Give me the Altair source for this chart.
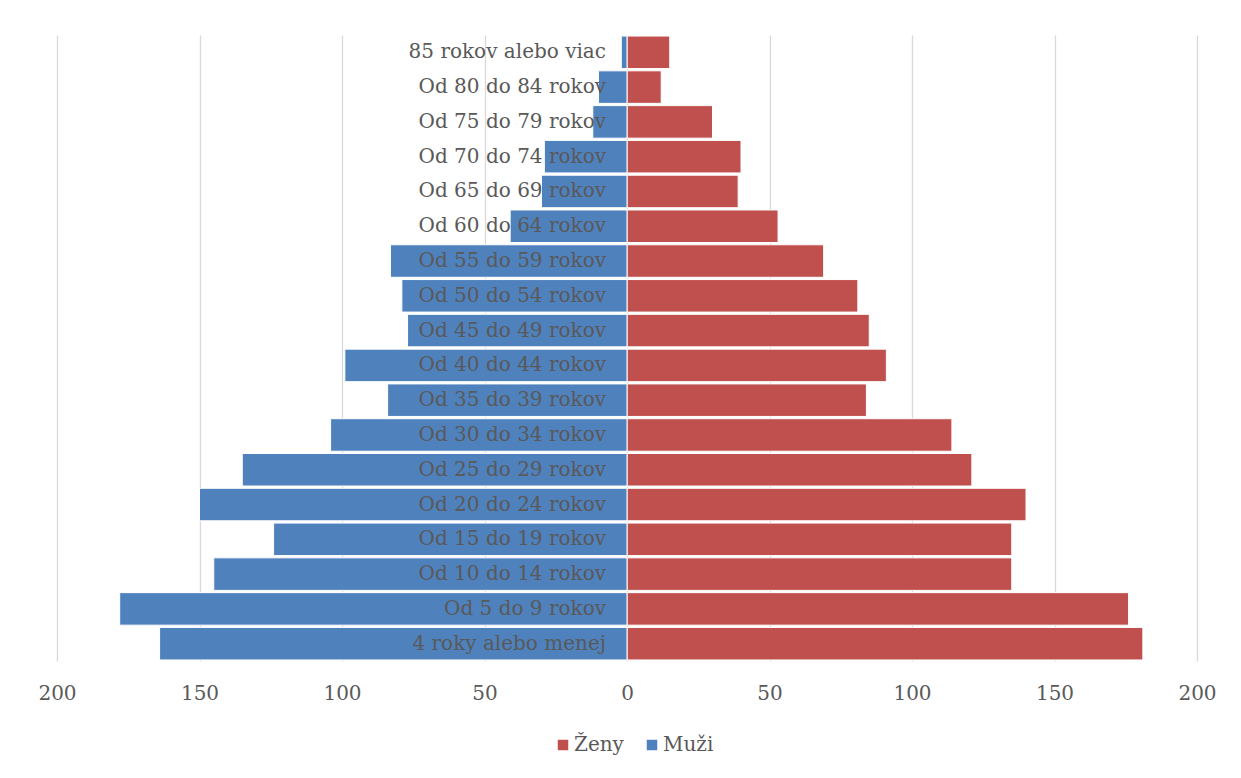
import altair as alt
import pandas as pd

categories = [
    "85 rokov alebo viac", "Od 80 do 84 rokov", "Od 75 do 79 rokov", "Od 70 do 74 rokov",
    "Od 65 do 69 rokov", "Od 60 do 64 rokov", "Od 55 do 59 rokov", "Od 50 do 54 rokov",
    "Od 45 do 49 rokov", "Od 40 do 44 rokov", "Od 35 do 39 rokov", "Od 30 do 34 rokov",
    "Od 25 do 29 rokov", "Od 20 do 24 rokov", "Od 15 do 19 rokov", "Od 10 do 14 rokov",
    "Od 5 do 9 rokov", "4 roky alebo menej",
]
zeny = [15, 12, 30, 40, 39, 53, 69, 81, 85, 91, 84, 114, 121, 140, 135, 135, 176, 181]
muzi = [2, 10, 12, 29, 30, 41, 83, 79, 77, 99, 84, 104, 135, 150, 124, 145, 178, 164]
series = ["Ženy", "Muži"]
colors = ["#C0504D", "#4F81BD"]
ticks = [-200, -150, -100, -50, 0, 50, 100, 150, 200]

rows = []
for c, z, m in zip(categories, zeny, muzi):
    rows.append({"vek": c, "pohlavie": "Ženy", "hodnota": z})
    rows.append({"vek": c, "pohlavie": "Muži", "hodnota": -m})
df = pd.DataFrame(rows)
lab = pd.DataFrame({"vek": categories, "nula": [0] * len(categories)})

FONT = "DejaVu Serif"
GRAY = "#595959"

yenc = alt.Y("vek:N", sort=categories, axis=None,
             scale=alt.Scale(paddingInner=0.065, paddingOuter=0.03))

bars = alt.Chart(df).mark_bar(stroke="white", strokeWidth=1).encode(
    x=alt.X("hodnota:Q",
            scale=alt.Scale(domain=[-200, 200], nice=False),
            axis=alt.Axis(values=ticks, labelExpr="abs(datum.value)", title=None,
                          grid=True, gridColor="#d9d9d9", gridWidth=1.3,
                          domain=False, ticks=False, labelPadding=22,
                          labelFlush=False, labelOverlap=False,
                          labelFont=FONT, labelFontSize=20, labelColor=GRAY)),
    y=yenc,
    color=alt.Color("pohlavie:N", scale=alt.Scale(domain=series, range=colors),
                    legend=alt.Legend(title=None, orient="none", direction="horizontal",
                                      legendX=496, legendY=700,
                                      symbolType="square", symbolSize=110,
                                      symbolStrokeWidth=0,
                                      labelFont=FONT, labelFontSize=20, labelColor=GRAY,
                                      labelOffset=1, columnPadding=18)),
)

texts = alt.Chart(lab).mark_text(align="right", baseline="middle", dx=-21,
                                 font=FONT, fontSize=20, color=GRAY).encode(
    x=alt.X("nula:Q"),
    y=yenc,
    text="vek:N",
)

chart = alt.layer(bars, texts).properties(
    width=1140, height=626,
    autosize=alt.AutoSizeParams(type="none"),
    padding={"left": 49, "top": 27, "right": 30, "bottom": 100},
).configure_view(stroke=None).configure_axis(gridDash=[])

chart.save("out.html", embed_options={"renderer": "svg", "actions": False})
